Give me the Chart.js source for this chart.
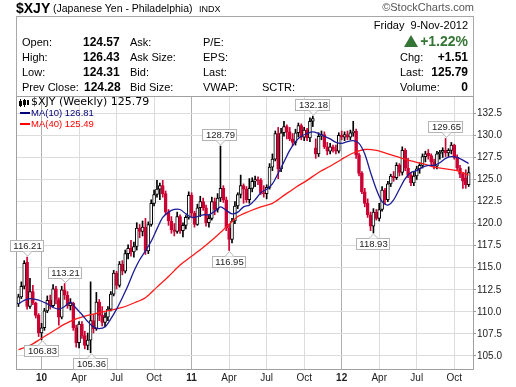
<!DOCTYPE html>
<html><head><meta charset="utf-8">
<script src="https://cdn.jsdelivr.net/npm/chart.js@4.4.0/dist/chart.umd.min.js"></script>
<style>
html,body{margin:0;padding:0;background:#fff;}
#wrap{position:relative;width:516px;height:387px;overflow:hidden;font-family:"Liberation Sans",Arial,sans-serif;color:#000;}
#c{position:absolute;left:0;top:0;}
.t{position:absolute;white-space:nowrap;line-height:14px;height:14px;font-size:11px;}
.b{font-weight:bold;font-size:12px;}
.lg{font-family:"DejaVu Sans",Verdana,sans-serif;}
#box{position:absolute;left:16px;top:16px;width:456px;height:80px;border:1px solid #a8a8a8;border-bottom:none;}
</style></head><body>
<div id="wrap">
<canvas id="c" width="516" height="387"></canvas>
<div id="box"></div>
<div class="t" style="left:16px;top:1px;font-weight:bold;font-size:14px;">$XJY</div>
<div class="t" style="left:53px;top:1px;font-size:10.5px;">(Japanese Yen - Philadelphia)</div>
<div class="t" style="left:199px;top:2px;font-size:9px;">INDX</div>
<div class="t" style="right:42px;top:0px;color:#555;">&copy;StockCharts.com</div>

<div class="t" style="right:48px;top:18px;">Friday&nbsp;&nbsp;9-Nov-2012</div>
<div class="t" style="right:48px;top:34px;color:#347434;font-weight:bold;font-size:14px;"><span style="display:inline-block;width:0;height:0;border-left:7px solid transparent;border-right:7px solid transparent;border-bottom:12px solid #347434;margin-right:2px;vertical-align:-1px;"></span>+1.22%</div>

<div class="t" style="left:22px;top:35px;">Open:</div>
<div class="t" style="left:22px;top:50px;">High:</div>
<div class="t" style="left:22px;top:65px;">Low:</div>
<div class="t" style="left:22px;top:80px;">Prev Close:</div>
<div class="t b" style="left:83px;top:35px;">124.57</div>
<div class="t b" style="left:83px;top:50px;">126.43</div>
<div class="t b" style="left:83px;top:65px;">124.31</div>
<div class="t b" style="left:84px;top:80px;">124.28</div>
<div class="t" style="left:130px;top:35px;">Ask:</div>
<div class="t" style="left:130px;top:50px;">Ask Size:</div>
<div class="t" style="left:130px;top:65px;">Bid:</div>
<div class="t" style="left:130px;top:80px;">Bid Size:</div>
<div class="t" style="left:203px;top:35px;">P/E:</div>
<div class="t" style="left:203px;top:50px;">EPS:</div>
<div class="t" style="left:203px;top:65px;">Last:</div>
<div class="t" style="left:203px;top:80px;">VWAP:</div>
<div class="t" style="left:262px;top:80px;">SCTR:</div>
<div class="t" style="left:400px;top:50px;">Chg:</div>
<div class="t" style="left:400px;top:65px;">Last:</div>
<div class="t" style="left:400px;top:80px;">Volume:</div>
<div class="t b" style="right:48px;top:50px;">+1.51</div>
<div class="t b" style="right:48px;top:65px;">125.79</div>
<div class="t b" style="right:48px;top:80px;">0</div>

<svg style="position:absolute;left:19px;top:99px;" width="10" height="8">
<rect x="0" y="2" width="3" height="5" fill="#000"/><rect x="1" y="0" width="1" height="8" fill="#000"/>
<rect x="4.5" y="1.5" width="2" height="4" fill="#fff" stroke="#000" stroke-width="1"/><rect x="5" y="0" width="1" height="8" fill="#000"/>
<rect x="8" y="1" width="2" height="5" fill="#000"/>
</svg>
<div class="t lg" style="left:31px;top:95px;font-size:11px;">$XJY (Weekly) 125.79</div>
<div style="position:absolute;left:20px;top:112px;width:10px;height:2px;background:#00007a;"></div>
<div class="t" style="left:31px;top:106px;font-size:9.5px;color:#00007a;">MA(10) 126.81</div>
<div style="position:absolute;left:20px;top:123px;width:10px;height:2px;background:#ff0000;"></div>
<div class="t" style="left:31px;top:117px;font-size:9.5px;color:#ff0000;">MA(40) 125.49</div>
</div>

<script>
// Weekly bars, first bar = week ending 13-Nov-2009, last = 9-Nov-2012 (index 0..156)
const opens = [
110.9,111.7,112.9,115.6,110.6,112.3,111.0,109.6,107.6,108.2,
110.1,111.3,110.7,112.6,111.4,109.4,112.5,111.9,110.7,111.0,
108.2,106.5,108.6,107.3,106.2,106.8,109.0,108.1,111.1,109.6,
108.8,109.4,110.3,112.0,114.4,113.0,115.4,114.6,116.6,117.2,
116.8,117.4,119.5,119.1,119.6,116.9,119.9,122.3,123.3,123.9,
124.3,123.4,121.3,120.3,119.3,119.1,120.8,119.2,119.8,120.7,
123.2,121.2,119.9,121.8,122.5,121.8,120.1,120.6,122.5,121.6,
122.9,124.0,122.7,119.5,118.2,120.3,122.0,123.3,124.3,123.9,
122.7,124.0,124.8,125.0,124.9,123.5,123.4,124.1,126.4,127.3,
130.2,126.2,130.3,131.0,130.4,129.6,129.2,130.3,131.1,129.8,
130.6,129.7,131.6,128.6,127.9,129.9,130.1,128.7,128.2,128.7,
128.4,128.2,130.0,129.8,130.1,129.8,130.3,130.5,127.8,125.7,
123.6,122.3,121.0,119.7,121.3,120.6,121.6,123.8,122.7,124.5,
125.4,125.2,126.6,125.8,128.3,126.3,125.5,124.6,125.4,126.2,
126.6,127.6,128.0,127.7,127.0,126.5,127.9,128.1,128.3,128.0,
128.3,128.9,127.5,126.3,125.6,125.2,124.4];
const highs = [
112.0,113.4,115.8,116.21,113.8,113.0,111.1,109.8,108.7,110.4,
111.8,111.9,113.1,112.9,111.6,112.9,113.21,112.3,111.5,111.1,
108.5,108.9,108.9,107.8,107.6,113.4,109.7,112.2,111.4,110.6,
109.9,110.6,112.3,114.7,114.6,115.7,115.8,117.0,117.6,118.1,
117.9,120.1,119.9,120.3,120.6,120.2,122.7,123.8,124.9,124.6,
124.9,123.7,121.6,120.8,120.0,121.3,121.0,120.1,120.9,123.6,
123.5,121.4,122.2,123.1,122.9,122.1,121.0,123.0,122.9,123.4,
128.79,124.3,123.0,119.9,120.6,122.5,123.5,125.5,124.5,124.2,
125.1,125.2,125.4,125.3,125.1,124.3,124.4,126.8,127.9,130.5,
130.9,130.8,131.6,131.2,130.9,130.2,130.7,131.4,131.3,130.9,
130.8,132.0,132.18,129.6,130.3,130.5,130.4,129.2,129.1,128.9,
128.9,130.3,130.5,130.4,130.5,130.6,131.6,130.7,128.0,125.9,
124.0,122.8,121.3,121.7,121.6,122.3,124.2,124.0,124.8,125.6,
125.9,126.9,126.8,128.7,128.5,127.4,125.8,125.8,126.5,126.9,
127.9,128.2,128.4,127.9,127.3,128.2,128.3,128.6,129.65,128.5,
129.2,129.0,127.8,126.6,125.8,126.1,126.43];
const lows = [
110.6,111.5,112.6,110.3,110.4,110.8,109.3,107.2,106.83,107.9,
109.9,110.3,110.5,110.9,108.5,109.2,111.4,110.4,110.2,107.9,
106.0,105.9,107.0,105.8,105.7,105.36,107.6,107.9,109.0,108.4,
108.3,109.0,110.1,111.8,112.6,112.8,114.2,114.4,116.0,116.3,
116.2,117.0,118.4,118.6,116.5,116.6,119.7,122.0,123.0,122.7,
123.0,121.0,119.8,118.9,118.6,118.9,118.9,118.5,119.4,120.5,
120.8,119.6,119.8,120.8,121.5,119.7,119.6,120.4,121.0,121.3,
122.5,122.4,119.2,116.95,117.8,120.0,121.7,122.9,122.3,122.4,
122.3,123.6,124.2,124.4,123.3,123.0,122.8,123.9,126.0,127.1,
125.1,125.9,129.9,129.6,129.4,128.8,128.9,129.8,129.5,129.4,
129.4,129.3,131.0,127.4,127.6,129.5,128.5,127.8,127.9,128.1,
127.9,128.0,129.5,129.4,129.5,129.5,129.9,127.4,125.4,123.4,
121.9,120.7,119.2,118.93,120.4,120.3,121.4,122.2,122.5,124.2,
124.8,125.0,125.4,125.5,126.0,125.2,124.3,124.3,125.0,125.7,
126.3,127.0,127.3,126.6,126.2,126.2,127.3,127.5,127.6,127.6,
127.9,127.3,126.0,125.2,124.0,124.0,124.2];
const closes = [
111.7,112.9,115.5,110.6,112.3,111.0,109.6,107.6,108.2,110.1,
111.3,110.7,112.6,111.4,109.4,112.5,111.9,110.7,111.0,108.2,
106.5,108.6,107.3,106.2,106.8,109.0,108.1,111.1,109.6,108.8,
109.4,110.3,112.0,114.4,113.0,115.4,114.6,116.6,117.2,116.8,
117.4,119.5,119.1,119.6,116.9,119.9,122.3,123.3,123.9,124.3,
123.4,121.3,120.3,119.3,119.1,120.8,119.2,119.8,120.7,123.2,
121.2,119.9,121.8,122.5,121.8,120.1,120.6,122.5,121.6,122.9,
124.0,122.7,119.5,118.2,120.3,122.0,123.3,124.3,123.9,122.7,
124.0,124.8,125.0,124.9,123.5,123.4,124.1,126.4,127.3,130.2,
126.2,130.3,131.0,130.4,129.6,129.2,130.3,131.1,129.8,130.6,
129.7,131.6,131.9,127.9,129.9,130.1,128.7,128.2,128.7,128.4,
128.2,130.0,129.8,130.1,129.8,130.3,130.5,127.8,125.7,123.6,
122.3,121.0,119.7,121.3,120.6,121.6,123.8,122.7,124.5,125.4,
125.2,126.6,125.8,128.3,126.3,125.5,124.6,125.4,126.2,126.6,
127.6,127.9,127.7,127.0,126.5,127.9,128.1,128.3,128.0,128.3,
128.9,127.5,126.3,125.6,124.8,124.4,125.79];
// moving averages (MA10 every 2nd week, MA40 every 4th week)
const ma10Step = 2;
const ma10 = [
110.9,111.3,111.5,111.4,111.2,110.9,110.5,110.3,110.6,111.1,
110.4,109.7,108.9,108.3,108.1,108.3,109.2,110.3,111.6,113.0,
114.6,115.9,116.9,118.0,119.4,120.7,121.3,121.6,121.6,121.1,
120.7,120.8,121.0,121.0,121.4,121.9,121.5,121.1,121.3,121.9,
122.1,122.7,123.5,123.9,124.5,125.7,127.0,128.3,129.3,129.9,
130.2,130.4,130.2,129.9,129.6,129.2,129.1,129.3,129.4,129.1,
127.9,125.8,123.9,122.5,122.1,122.7,123.9,125.1,125.8,126.0,
126.4,126.6,126.6,126.9,127.4,127.6,127.5,127.2,126.81];
const ma40Step = 4;
const ma40 = [
105.7,106.2,107.0,107.8,108.6,109.2,109.6,109.9,110.2,110.5,
111.0,111.6,112.8,114.0,115.3,116.3,117.3,118.4,119.6,120.8,
121.4,121.9,122.3,123.2,124.1,124.9,125.8,126.5,127.3,128.0,
128.4,128.3,127.9,127.5,127.1,126.8,126.4,126.2,126.0,125.49];
// x-axis: week index of the first bar of each quarter
const tickWeeks = [8,21,34,47,60,73,86,99,112,125,138,151];
const tickLabels = ['10','Apr','Jul','Oct','11','Apr','Jul','Oct','12','Apr','Jul','Oct'];
const yearTicks = [0,4,8];
const yTicks = [105,107.5,110,112.5,115,117.5,120,122.5,125,127.5,130,132.5];
// swing high / low callouts
const callouts = [
  {week:3, value:116.21, side:'above'},
  {week:16, value:113.21, side:'above'},
  {week:8, value:106.83, side:'below'},
  {week:25, value:105.36, side:'below'},
  {week:70, value:128.79, side:'above'},
  {week:73, value:116.95, side:'below'},
  {week:102, value:132.18, side:'above'},
  {week:123, value:118.93, side:'below'},
  {week:148, value:129.65, side:'above'}
];

const RED = '#cc0033', BLK = '#000000';
const candleColor = closes.map((c,i) => (i > 0 && c < closes[i-1]) ? RED : BLK);
const bodyFill = closes.map((c,i) => c > opens[i] ? '#ffffff' : candleColor[i]);

const decor = {
  id: 'decor',
  afterDatasetsDraw(chart) {
    const {ctx, chartArea: a, scales: {x, y}} = chart;
    ctx.save();
    ctx.strokeStyle = '#a0a0a0';
    ctx.lineWidth = 1;
    ctx.strokeRect(a.left - 0.5, a.top - 0.5, a.right - a.left + 1, a.bottom - a.top + 1);
    ctx.font = '9.5px "Liberation Sans", Arial, sans-serif';
    callouts.forEach(c => {
      const px = Math.round(x.getPixelForValue(c.week));
      const py = y.getPixelForValue(c.value);
      const txt = c.value.toFixed(2);
      const w = Math.round(ctx.measureText(txt).width) + 6, h = 12;
      const above = c.side === 'above';
      const bx = px - Math.round(w / 2);
      const by = Math.round(above ? py - 5 - h : py + 5);
      ctx.fillStyle = '#fff';
      ctx.fillRect(bx, by, w, h);
      ctx.strokeStyle = '#b4b4b4';
      ctx.strokeRect(bx + 0.5, by + 0.5, w - 1, h - 1);
      const edge = above ? by + h - 0.5 : by + 0.5;
      const tip = above ? py - 1 : py + 1;
      ctx.beginPath();
      ctx.moveTo(px - 4, edge); ctx.lineTo(px + 0.5, tip); ctx.lineTo(px + 5, edge);
      ctx.closePath(); ctx.fillStyle = '#fff'; ctx.fill();
      ctx.beginPath();
      ctx.moveTo(px - 4, edge); ctx.lineTo(px + 0.5, tip); ctx.lineTo(px + 5, edge);
      ctx.stroke();
      ctx.fillStyle = '#222';
      ctx.textAlign = 'center';
      ctx.textBaseline = 'middle';
      ctx.fillText(txt, px + 0.5, by + h / 2 + 0.5);
    });
    ctx.restore();
  }
};

new Chart(document.getElementById('c'), {
  type: 'bar',
  data: {
    datasets: [
      {
        type: 'line', order: 1,
        data: ma10.map((v,k) => ({x: k * ma10Step, y: v})),
        borderColor: '#1c1c96', borderWidth: 1.3, pointRadius: 0, tension: 0.3
      },
      {
        type: 'line', order: 1,
        data: ma40.map((v,k) => ({x: k * ma40Step, y: v})),
        borderColor: '#ff1a1a', borderWidth: 1.3, pointRadius: 0, tension: 0.3
      },
      {
        type: 'bar', order: 2, grouped: false,
        data: opens.map((o,i) => ({x: i, y: [Math.min(o, closes[i]), Math.max(o, closes[i])]})),
        backgroundColor: bodyFill, borderColor: candleColor,
        borderWidth: 1, borderSkipped: false, barThickness: 3
      },
      {
        type: 'bar', order: 3, grouped: false,
        data: highs.map((h,i) => ({x: i, y: [lows[i], h]})),
        backgroundColor: candleColor, borderWidth: 0, barThickness: 1
      }
    ]
  },
  options: {
    responsive: false,
    animation: false,
    devicePixelRatio: 1,
    events: [],
    layout: {padding: {left: 17, top: 97, right: 0, bottom: 0}},
    plugins: {legend: {display: false}, tooltip: {enabled: false}},
    scales: {
      x: {
        type: 'linear', min: -0.5, max: 157.5, offset: false,
        afterBuildTicks: s => { s.ticks = tickWeeks.map(v => ({value: v})); },
        afterFit: s => { s.height = 18; },
        border: {display: false},
        grid: {offset: false, drawTicks: false,
               color: c => yearTicks.includes(c.index) ? '#b0b0b0' : '#dcdcdc'},
        ticks: {
          autoSkip: false, maxRotation: 0, padding: 3, color: '#222',
          callback: (v, idx) => tickLabels[idx],
          font: c => ({family: '"Liberation Sans", Arial, sans-serif', size: 10,
                       weight: yearTicks.includes(c.index) ? 'bold' : 'normal'})
        }
      },
      y: {
        position: 'right', min: 103.52, max: 134.35,
        afterBuildTicks: s => { s.ticks = yTicks.map(v => ({value: v})); },
        afterFit: s => { s.width = 43; },
        border: {display: false},
        grid: {color: '#dcdcdc', tickLength: 3, tickColor: '#999'},
        ticks: {
          padding: 1, color: '#222',
          callback: v => Number(v).toFixed(1),
          font: {family: '"Liberation Sans", Arial, sans-serif', size: 10}
        }
      }
    }
  },
  plugins: [decor]
});
</script>
</body></html>
